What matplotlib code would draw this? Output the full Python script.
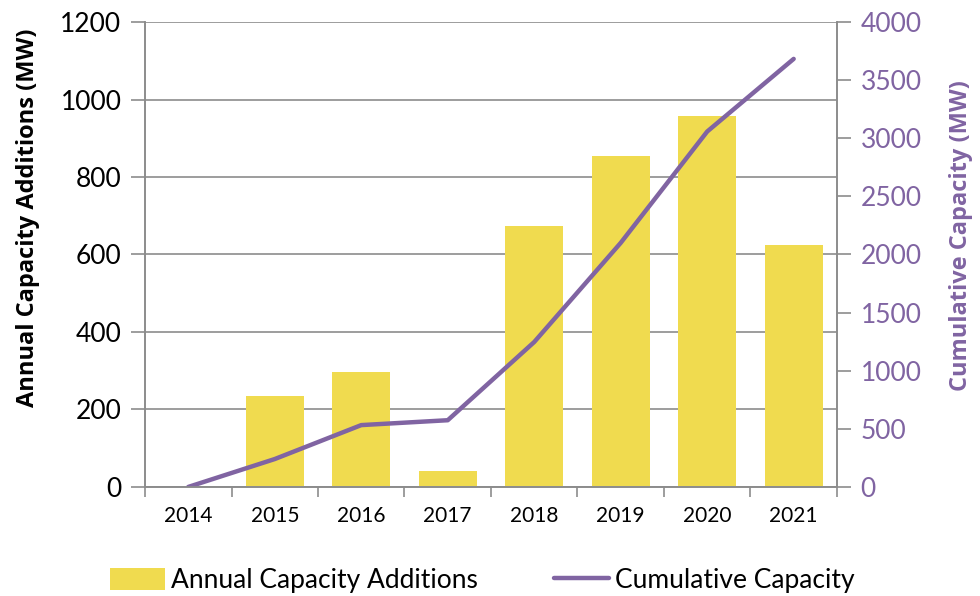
import numpy as np
import matplotlib
matplotlib.use('Agg')
import matplotlib.pyplot as plt

years = ['2014', '2015', '2016', '2017', '2018', '2019', '2020', '2021']
annual = [0, 234, 297, 42, 673, 853, 958, 625]
cumulative = [0, 240, 532, 574, 1247, 2100, 3058, 3683]

yellow = '#F0DB4F'
purple = '#8064A2'
grey = '#8C8C8C'

plt.rcParams['font.family'] = ['Lato', 'DejaVu Sans']

fig = plt.figure(figsize=(9.8, 5.96), dpi=100)
ax = fig.add_axes([0.148, 0.183, 0.706, 0.780])
ax2 = ax.twinx()

x = np.arange(len(years))
bars = ax.bar(x, annual, width=0.67, color=yellow, zorder=2, label='Annual Capacity Additions')
line, = ax2.plot(x, cumulative, color=purple, lw=3.2, solid_capstyle='round', label='Cumulative Capacity')

ax.set_xlim(-0.5, len(years) - 0.5)
ax.set_ylim(0, 1200)
ax.set_yticks(range(0, 1201, 200))
ax2.set_ylim(0, 4000)
ax2.set_yticks(range(0, 4001, 500))

ax.yaxis.grid(True, color=grey, lw=1.2, zorder=0)
ax.set_axisbelow(True)

ax.set_xticks(x)
ax.set_xticklabels(years, fontsize=15)
ax.set_xticks(np.arange(-0.5, len(years)), minor=True)
ax.tick_params(axis='x', which='major', length=0, pad=14)
ax.tick_params(axis='x', which='minor', length=7, color=grey, width=1.2)
ax.tick_params(axis='y', length=10, color=grey, width=1.2, labelsize=19, pad=7)
ax2.tick_params(axis='y', length=10, color=grey, width=1.2, labelsize=19, labelcolor=purple, pad=7)

for a in (ax, ax2):
    for s in a.spines.values():
        s.set_color(grey)
        s.set_linewidth(1.2)
    a.spines['top'].set_visible(False)

ax.set_ylabel('Annual Capacity Additions (MW)', fontsize=17, fontweight='bold', family='Open Sans')
ax.yaxis.set_label_coords(-0.152, 0.58)
ax2.set_ylabel('Cumulative Capacity (MW)', fontsize=17, fontweight='bold',
               family='Open Sans', color=purple)
ax2.yaxis.set_label_coords(1.162, 0.54)

fig.legend([bars, line], ['Annual Capacity Additions', 'Cumulative Capacity'],
           loc='lower center', bbox_to_anchor=(0.492, -0.035), ncol=2, frameon=False,
           fontsize=19, handlelength=2.1, handleheight=0.9, handletextpad=0.2, columnspacing=2.9)

fig.savefig('out.png', dpi=100)
